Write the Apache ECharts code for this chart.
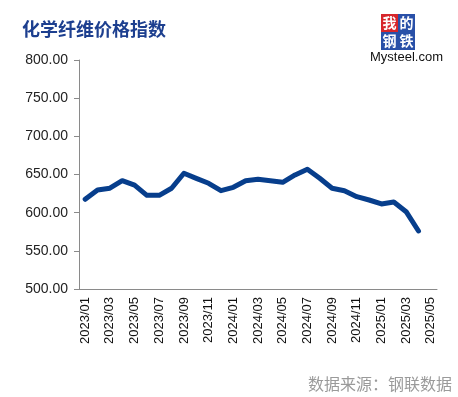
<!DOCTYPE html>
<html>
<head>
<meta charset="utf-8">
<script src="https://cdn.jsdelivr.net/npm/echarts@6/dist/echarts.min.js"></script>
<style>
  html, body { margin: 0; padding: 0; background: #fff; }
  #chart { width: 458px; height: 397px; }
</style>
</head>
<body>
<div id="chart"></div>
<script>
// months shown on the x axis
const months = [
  "2023/01", "2023/02", "2023/03", "2023/04", "2023/05", "2023/06",
  "2023/07", "2023/08", "2023/09", "2023/10", "2023/11", "2023/12",
  "2024/01", "2024/02", "2024/03", "2024/04", "2024/05", "2024/06",
  "2024/07", "2024/08", "2024/09", "2024/10", "2024/11", "2024/12",
  "2025/01", "2025/02", "2025/03", "2025/04", "2025/05"
];

// index values (2025/05 has no value yet)
const indexValues = [
  617.5, 629.7, 632.0, 641.9, 636.0, 622.7,
  622.7, 632.0, 651.6, 645.0, 638.5, 628.8,
  633.2, 641.9, 643.7, 641.9, 639.8, 649.4,
  656.8, 645.0, 632.0, 628.8, 621.0, 616.6,
  611.4, 614.0, 601.3, 576.0, null
];

const titleText = "化学纤维价格指数";
const sourceText = "数据来源：钢联数据";
const logoChars = ["我", "的", "钢", "铁"];
const logoColors = ["#d7262b", "#2950a8", "#2950a8", "#2950a8"];

const chart = echarts.init(document.getElementById("chart"));

const logo = logoChars.map((ch, i) => ({
  type: "group",
  left: 381 + (i % 2) * 17,
  top: 14 + Math.floor(i / 2) * 18,
  children: [
    { type: "rect", shape: { x: 0, y: 0, width: 17, height: 18 }, style: { fill: logoColors[i] } },
    {
      type: "text",
      x: 8.5, y: 9,
      style: {
        text: ch, fill: "#fff", font: "bold 14px 'Noto Sans CJK SC'",
        align: "center", verticalAlign: "middle"
      }
    }
  ]
}));

const option = {
  animation: false,
  title: {
    text: titleText,
    left: 17,
    top: 15,
    textStyle: {
      fontFamily: "Noto Sans CJK SC",
      fontSize: 18,
      fontWeight: "bold",
      color: "#1d3f8f"
    }
  },
  grid: { left: 79, right: 21, top: 60, bottom: 108 },
  xAxis: {
    type: "category",
    data: months,
    boundaryGap: true,
    axisLine: { lineStyle: { color: "#8a8a8a" } },
    axisTick: { interval: 1, length: 5, lineStyle: { color: "#8a8a8a" } },
    axisLabel: {
      interval: 1,
      rotate: 90,
      margin: 8,
      fontFamily: "Liberation Sans",
      fontSize: 13,
      color: "#111"
    }
  },
  yAxis: {
    type: "value",
    min: 500,
    max: 800,
    interval: 50,
    splitLine: { show: false },
    axisLine: { show: true, lineStyle: { color: "#8a8a8a" } },
    axisTick: { show: true, length: 5, lineStyle: { color: "#8a8a8a" } },
    axisLabel: {
      margin: 11,
      fontFamily: "Liberation Sans",
      fontSize: 14,
      color: "#222",
      formatter: (v) => v.toFixed(2)
    }
  },
  series: [
    {
      name: titleText,
      type: "line",
      data: indexValues,
      showSymbol: false,
      lineStyle: { color: "#073e8c", width: 5, join: "round", cap: "round" }
    }
  ],
  graphic: [
    ...logo,
    {
      type: "text",
      left: 370,
      top: 51,
      style: {
        text: "Mysteel.com",
        fill: "#111",
        font: "13px 'Liberation Sans'"
      }
    },
    {
      type: "text",
      right: 6,
      top: 376,
      style: {
        text: sourceText,
        fill: "#9a9a9a",
        font: "16px 'Noto Sans CJK SC'"
      }
    }
  ]
};

chart.setOption(option);
</script>
</body>
</html>
